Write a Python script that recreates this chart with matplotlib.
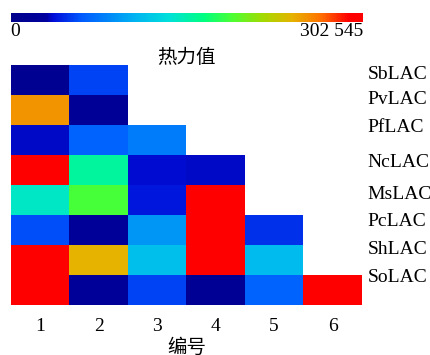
import matplotlib
matplotlib.use("Agg")
import matplotlib.pyplot as plt
import numpy as np
from matplotlib.colors import LinearSegmentedColormap

plt.rcParams['font.family'] = ['Liberation Serif', 'Noto Sans CJK SC']

# data
enzymes = ["SbLAC", "PvLAC", "PfLAC", "NcLAC", "MsLAC", "PcLAC", "ShLAC", "SoLAC"]
numbers = ["1", "2", "3", "4", "5", "6"]
vmax = 302545

heat = [
    [9000, 54000],
    [254000, 18000],
    [35000, 66000, 79000],
    [302545, 157000, 36000, 35000],
    [142000, 188000, 40000, 302545],
    [57000, 21000, 91000, 302545, 48000],
    [302545, 242000, 115000, 302545, 112000],
    [302545, 21000, 54000, 15000, 66000, 302545],
]

# mask the empty upper part
grid = np.full((len(enzymes), len(numbers)), np.nan)
for i, row in enumerate(heat):
    grid[i, :len(row)] = row

# colour map
nodes = [
    (0.00, (0.00, 0.00, 0.55)),
    (0.10, (0.00, 0.00, 0.62)),
    (0.12, (0.00, 0.05, 0.85)),
    (0.20, (0.00, 0.35, 1.00)),
    (0.35, (0.00, 0.70, 0.95)),
    (0.45, (0.00, 0.88, 0.85)),
    (0.55, (0.00, 1.00, 0.50)),
    (0.63, (0.30, 1.00, 0.20)),
    (0.72, (0.65, 0.85, 0.00)),
    (0.80, (0.90, 0.70, 0.00)),
    (0.88, (1.00, 0.45, 0.00)),
    (0.96, (1.00, 0.00, 0.00)),
    (1.00, (1.00, 0.00, 0.00)),
]
cmap = LinearSegmentedColormap.from_list("heat", nodes)

fig = plt.figure(figsize=(4.31, 3.55), dpi=100)
ax = fig.add_axes([0.0255, 0.1408, 0.814, 0.677])
cax = fig.add_axes([0.0245, 0.939, 0.818, 0.0237])

mesh = ax.pcolormesh(np.arange(len(numbers) + 1), np.arange(len(enzymes) + 1),
                     np.ma.masked_invalid(grid), cmap=cmap, vmin=0, vmax=vmax)
ax.set_xlim(0, len(numbers))
ax.set_ylim(len(enzymes), 0)
for s in ax.spines.values():
    s.set_visible(False)

ax.set_xticks(np.arange(len(numbers)) + 0.5)
ax.set_xticklabels(numbers, fontsize=14)
ax.tick_params(axis='x', length=0, pad=9)
ax.set_xlabel("编号", fontsize=14, labelpad=3)

# row labels sit slightly off the cell centres in the original
label_pos = [0.25, 1.08, 2.01, 3.2, 4.27, 5.17, 6.1, 7.03]
ax.yaxis.tick_right()
ax.set_yticks(label_pos)
ax.set_yticklabels(enzymes, fontsize=14)
ax.tick_params(axis='y', length=0, pad=4)

cb = fig.colorbar(mesh, cax=cax, orientation='horizontal')
cb.outline.set_visible(False)
cb.set_ticks([0, vmax])
cb.set_ticklabels(["0", "302 545"])
cax.tick_params(length=0, labelsize=14, pad=1)
tl = cax.get_xticklabels()
tl[0].set_horizontalalignment('left')
tl[1].set_horizontalalignment('right')
cb.set_label("热力值", fontsize=14, labelpad=6)

fig.savefig("out.png", dpi=100)
